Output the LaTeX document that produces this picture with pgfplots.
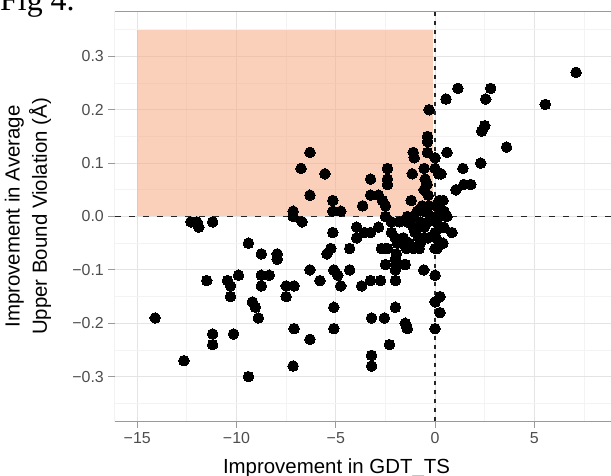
\documentclass[border=0pt]{standalone}
\usepackage{pgfplots}
\pgfplotsset{compat=1.18}
\usepackage{pgfplotstable}
\usepackage{fontspec}
\setmainfont{Liberation Sans}
\newfontfamily\figfont{Liberation Serif}

\definecolor{tickgray}{HTML}{4D4D4D}
\definecolor{gridmajor}{HTML}{E4E4E4}
\definecolor{gridminor}{HTML}{F3F3F3}
\definecolor{framegray}{HTML}{9A9A9A}
\definecolor{peach}{RGB}{246,170,130}

% Change in GDT_TS (x) against change in mean upper-bound violation (y)
\pgfplotstableread{
x y
7.1 0.27
5.55 0.21
3.6 0.13
1.15 0.24
0.55 0.22
2.8 0.24
2.55 0.22
2.5 0.17
2.35 0.16
2.3 0.10
1.4 0.09
0.6 0.12
1.8 0.06
1.45 0.06
1.05 0.05
-0.3 0.20
-0.38 0.15
-0.38 0.14
-0.38 0.12
-1.1 0.12
-1.05 0.11
0 0.11
0 0.09
-0.55 0.09
0.3 0.08
-1.15 0.08
0.17 0.08
-0.5 0.07
-0.4 0.06
-0.55 0.05
-0.35 0.04
-1.2 0.03
0.2 0.03
0.4 0.03
-0.65 0.02
-0.3 0.02
-0.9 0.01
0.05 0.02
0.45 0.01
0.2 0.0
0.6 0.0
-1.1 0.0
-0.2 0.0
0.3 0.01
-1.4 0.0
-0.6 0.01
-2.4 0.09
-2.4 0.07
-2.4 0.06
-3.25 0.07
-3.25 0.04
-2.85 0.04
-2.65 0.03
-3.65 0.02
-2.5 0.02
-6.3 0.12
-6.75 0.09
-5.55 0.08
-6.3 0.04
-5.15 0.03
-5.15 0.01
-4.75 0.01
-7.15 0.01
-7.15 0.0
-6.7 -0.01
-12.3 -0.01
-12.0 -0.01
-11.9 -0.02
-11.2 -0.01
-14.1 -0.19
-12.65 -0.27
-11.2 -0.22
-11.2 -0.24
-11.5 -0.12
-10.45 -0.12
-10.3 -0.13
-9.9 -0.11
-10.3 -0.15
-10.15 -0.22
-9.4 -0.05
-8.75 -0.07
-7.95 -0.07
-7.95 -0.08
-8.75 -0.11
-8.35 -0.11
-8.75 -0.13
-9.2 -0.16
-9.05 -0.17
-8.9 -0.19
-9.4 -0.30
-7.5 -0.13
-7.1 -0.13
-7.5 -0.15
-7.1 -0.21
-7.15 -0.28
-6.3 -0.10
-6.3 -0.23
-5.8 -0.12
-5.45 -0.07
-5.25 -0.06
-5.15 -0.03
-5.1 -0.10
-4.9 -0.11
-4.75 -0.13
-4.3 -0.06
-4.3 -0.10
-5.1 -0.17
-5.1 -0.21
-3.95 -0.02
-3.95 -0.04
-3.7 -0.13
-3.55 -0.03
-3.25 -0.03
-3.25 -0.12
-2.75 -0.12
-3.2 -0.19
-2.55 -0.19
-3.2 -0.26
-3.2 -0.28
-2.3 -0.24
-2.85 -0.02
-2.7 -0.06
-2.4 -0.06
-2.5 -0.09
-2.0 -0.08
-2.0 -0.09
-1.55 -0.09
-2.0 -0.10
-2.0 -0.12
-2.0 -0.17
-1.5 -0.20
-1.4 -0.21
-1.45 -0.205
-0.57 -0.10
0 -0.11
0 -0.16
0.25 -0.15
0.25 -0.18
0 -0.21
0 -0.06
0.4 -0.05
0.85 -0.03
-1.8 -0.01
-1.4 -0.01
-2.2 -0.03
-2.0 -0.04
-1.6 -0.04
-1.9 -0.05
-1.3 -0.05
-1.1 -0.06
-0.8 -0.06
-1.1 -0.02
-1.0 -0.03
-0.8 -0.04
-0.75 -0.05
-0.35 -0.04
-0.75 -0.01
-0.35 -0.01
0.05 -0.01
0.25 -0.02
0.45 -0.02
0 -0.03
-0.55 -0.02
-2.5 0.0
-2.2 -0.01
-1.95 -0.07
-2.5 -0.06
-1.45 -0.06
-0.6 -0.04
0.05 -0.04
0.1 -0.06
-1.5 -0.09
-1.95 -0.09
}\pts

\begin{document}
\begin{tikzpicture}
\begin{axis}[
  scale only axis,
  width=496bp, height=409bp,
  xmin=-16.12, xmax=8.86,
  ymin=-0.383, ymax=0.383,
  axis line style={draw=none},
  xtick={-15,-10,-5,0,5},
  xticklabels={−15,−10,−5,0,5},
  ytick={-0.3,-0.2,-0.1,0,0.1,0.2,0.3},
  yticklabels={−0.3,−0.2,−0.1,0.0,0.1,0.2,0.3},
  minor xtick={-12.5,-7.5,-2.5,2.5,7.5},
  minor ytick={-0.35,-0.25,-0.15,-0.05,0.05,0.15,0.25,0.35},
  grid=both,
  major grid style={draw=gridmajor, line width=1bp},
  minor grid style={draw=gridminor, line width=0.8bp},
  xtick pos=bottom, ytick pos=left,
  tick align=outside,
  major tick length=7bp, minor tick length=0pt,
  tick style={draw=framegray, line width=0.9bp},
  ticklabel style={font=\fontsize{16}{19}\selectfont, text=tickgray},
  xticklabel style={anchor=north, inner sep=4.5bp},
  yticklabel style={anchor=east, inner sep=4bp},
  xlabel={Improvement in GDT\_TS},
  xlabel style={at={(axis description cs:0.4466,0)}, anchor=base,
    yshift=-52.5bp, inner sep=0pt, font=\fontsize{20.5}{24}\selectfont},
  ylabel={Improvement in Average\\Upper Bound Violation (Å)},
  ylabel style={at={(axis description cs:-0.1282,0.5)}, anchor=south,
    inner sep=0pt, align=center, font=\fontsize{20.5}{27.5}\selectfont},
]
% shaded quadrant
\addplot[draw=none, fill=peach, fill opacity=0.55, forget plot]
  coordinates {(-15,0) (-15,0.35) (-0.1,0.35) (-0.1,0)} -- cycle;
% reference lines at zero
\addplot[black!85, line width=1.3bp, dash pattern=on 6bp off 8bp, forget plot]
  coordinates {(-16.12,0) (8.86,0)};
\addplot[black!85, line width=1.3bp, dash pattern=on 4bp off 5bp, forget plot]
  coordinates {(0,-0.383) (0,0.383)};
% models
\addplot[only marks, mark=*, mark size=5.3bp,
  mark options={fill=black, draw=black, line width=0pt}] table[x=x, y=y] {\pts};
% panel frame (left, top, bottom)
\draw[framegray, line width=1bp] (rel axis cs:1,1) -- (rel axis cs:0,1)
  -- (rel axis cs:0,0) -- (rel axis cs:1,0);
\coordinate (o) at (rel axis cs:0,0);
\end{axis}
\node[anchor=base west, inner sep=0pt, font=\figfont\fontsize{32}{36}\selectfont]
  at ([shift={(-115bp,410bp)}]o) {Fig 4.};
\pgfresetboundingbox
\useasboundingbox ([shift={(-115bp,-55bp)}]o) rectangle ([shift={(496bp,421bp)}]o);
\end{tikzpicture}
\end{document}
